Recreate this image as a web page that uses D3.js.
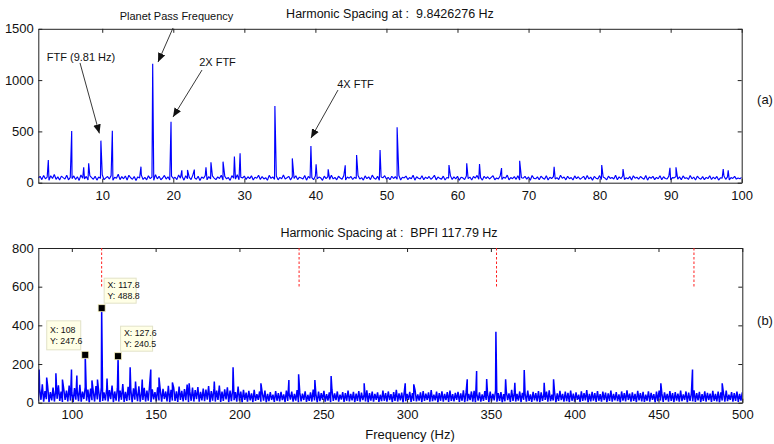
<!DOCTYPE html>
<html><head><meta charset="utf-8">
<script src="https://cdn.jsdelivr.net/npm/d3@7"></script>
<style>
body{margin:0;background:#fff;}
text{font-family:Arial,"Liberation Sans",sans-serif;fill:#111;}
</style>
</head><body>
<svg id="c" width="774" height="444"></svg>
<script>
// ---------- DATA ----------
const topTitle = "Harmonic Spacing at :  9.8426276 Hz";
const botTitle = "Harmonic Spacing at :  BPFI 117.79 Hz";
const topNoiseStart = 1, topNoiseStep = 0.25;
const topNoise = [
45,62,30,71,38,55,24,68,41,80,33,57,26,64,49,35,73,28,52,40,
66,31,58,22,75,44,37,61,27,70,50,34,63,25,56,42,78,29,47,60,
36,69,23,54,43,82,30,59,38,65,26,72,48,33,61,21,57,45,74,32,
51,28,67,40,55,24,79,37,62,29,46,71,35,58,27,64,41,53,30,76,
44,60,25,68,39,52,31,74,47,34,63,22,56,42,70,28,59,36,66,45,
30,57,41,72,26,61,38,50,23,69,43,35,77,29,54,46,64,32,58,40,
67,27,53,44,73,31,60,37,49,24,71,42,56,33,65,28,52,39,75,36,
48,62,26,57,41,68,30,54,45,35,70,25,61,43,50,29,66,38,55,47,
23,64,40,58,32,72,37,51,28,63,46,34,69,27,56,44,60,31,53,42,
71,35,49,26,66,39,57,30,74,45,33,62,24,55,48,68,36,52,29,63,
41,59,34,70,27,53,46,65,31,50,38,73,25,58,43,36,67,29,54,40,
61,33,48,72,28,56,42,35,64,26,51,45,69,32,57,38,62,24,53,47,
30,66,39,55,27,60,44,71,34,49,25,63,41,58,36,52,68,29,46,37,
65,31,54,43,74,28,50,39,59,33,67,26,48,45,62,35,56,24,70,42,
38,57,29,64,46,33,68,27,53,41,60,36,49,31,72,43,55,28,63,39,
51,26,66,40,58,34,47,62,30,71,37,54,25,61,44,35,69,32,56,45,
28,63,42,50,36,73,29,57,40,65,31,48,38,59,27,67,44,53,34,61,
46,33,70,25,55,43,62,30,52,39,68,28,58,41,36,64,26,50,47,60,
35,57,29,66,42,49,32,71,38,55,27,63,44,34,59,30,52,40,68,31,
54,37,61,26,48,45,65,33,57,28,50,41,62,35,46,39,52
];
const topPeakFreq = [2.41,5.70,7.39,8.09,9.81,11.42,15.45,17.1,19.68,21.2,22.0,22.96,24.6,25.3,27.0,28.6,29.4,34.3,36.75,39.37,40.1,41.8,44.2,45.8,49.1,51.5,58.8,61.3,63.1,66.2,68.75,73.6,80.3,83.3,89.9,90.75,97.4,98.1];
const topPeakAmp  = [221,503,150,189,410,507,156,1160,595,120,125,128,150,199,205,254,287,748,237,358,180,130,170,270,319,540,172,189,182,143,214,156,172,133,145,150,133,120];
const topXTicks = [10,20,30,40,50,60,70,80,90,100];
const topYTicks = [0,500,1000,1500];
const topLabels = ["Planet Pass Frequency","FTF (9.81 Hz)","2X FTF","4X FTF"];
const topArrowFrom = [[19.96,1508],[6.87,1167],[24.04,1098],[43.18,903]];
const topArrowTo   = [[17.85,1176],[9.6,480],[19.96,640],[39.38,435]];

const botNoiseStart = 80, botNoiseStep = 0.8;
const botNoise = [
8,72,15,95,5,60,18,84,3,55,12,78,6,66,20,90,9,58,4,70,14,62,7,88,11,52,
3,76,16,64,8,92,5,57,19,81,10,68,2,73,13,59,6,86,17,61,4,79,9,54,12,71,
7,65,18,89,3,58,11,75,6,63,15,97,4,56,9,82,13,67,2,74,16,60,8,85,5,53,
14,77,6,62,10,91,3,69,17,55,8,80,12,64,5,72,19,58,7,87,2,66,11,76,9,59,
4,83,15,61,7,70,13,94,3,57,10,78,6,65,18,81,5,56,12,73,8,68,16,86,2,60,
11,74,6,63,14,88,4,57,9,69,17,79,3,62,8,71,13,55,5,84,10,58,2,66,15,52,
6,61,12,48,3,67,9,44,15,58,5,51,11,63,2,46,8,55,14,42,4,60,10,49,7,56,
13,43,3,62,9,50,16,57,5,45,11,65,2,52,7,47,14,59,4,41,10,54,6,68,12,46,
2,57,8,49,15,61,5,44,11,53,3,66,9,48,13,58,6,42,16,55,4,50,10,63,7,45,
12,56,3,47,9,60,5,52,14,43,7,64,2,49,11,57,6,46,15,54,4,41,8,62,10,50,
5,58,13,44,3,55,9,67,6,48,12,52,2,61,8,45,15,56,4,49,10,63,7,43,11,54,
3,60,9,47,14,53,5,65,8,42,12,57,2,50,10,59,6,46,13,55,4,62,9,44,7,51,
15,56,4,48,10,64,3,52,8,45,13,58,6,61,2,47,11,54,5,43,9,60,14,49,3,57,
8,46,12,63,5,50,10,55,2,44,7,59,13,48,4,66,9,52,6,45,11,58,3,51,15,47,
6,62,9,43,4,56,12,49,7,60,3,53,10,46,14,57,5,64,8,41,11,55,2,48,9,61,
13,45,5,58,8,51,3,63,10,47,6,54,15,42,4,59,9,50,12,65,2,46,7,56,11,49,
4,60,10,44,6,57,13,52,3,48,9,62,5,45,12,55,8,43,2,58,11,50,7,64,14,47,
5,53,9,46,3,61,12,49,7,56,4,42,10,59,6,51,15,44,2,57,8,63,11,48,4,54,
13,45,6,60,9,50,3,55,11,47,5,62,8,43,14,58,2,52,10,46,7,64,4,49,12,56,
3,44,9,59,6,51,13,47,4,61,10,45,7,57,2,53,11,48,5,63,8,42,14,55,6,50,
9,58,4,46,11,53
];
const botPeakFreq = [80.5,85,90.5,94.4,99.8,103,108,112,115.3,117.8,121,127.6,134.8,138,142,147.1,152,160,170,185,196.2,212.8,229.5,235.3,245,254.7,274.4,298.9,304,335.9,341.5,347.5,353,358.8,364.3,369.9,381.8,387.4,451.4,470.3,488];
const botPeakAmp  = [172,130,152,120,172,140,247.6,115,120,488.8,125,240.5,183,110,120,172,130,105,100,110,183,100,117,147,117,138,100,100,95,121,164,122,367,121,103,169,103,121,100,172,100];
const botXTicks = [100,150,200,250,300,350,400,450,500];
const botYTicks = [0,200,400,600,800];
const bpfiHarmonics = [117.79,235.58,353.37,471.16];
const harmonicLineTop = 800, harmonicLineBottom = 600;
const tipX = [108,117.8,127.6];
const tipY = [247.6,488.8,240.5];
const tipXLabel = ["X: 108","X: 117.8","X: 127.6"];
const tipYLabel = ["Y: 247.6","Y: 488.8","Y: 240.5"];
const tipSide = ["left","right","right"];

// ---------- DRAW ----------
const svg = d3.select("#c");
svg.append("defs").append("marker")
  .attr("id","ah").attr("viewBox","0 0 10 10").attr("refX",10).attr("refY",5)
  .attr("markerWidth",9).attr("markerHeight",9).attr("markerUnits","userSpaceOnUse")
  .attr("orient","auto")
  .append("path").attr("d","M0,0.8 L10,5 L0,9.2 z").attr("fill","#111");

function buildSeries(start, step, noise, pf, pa){
  const pts = noise.map((v,i)=>({f:start+i*step, v:v}));
  pf.forEach((f,i)=>pts.push({f:f, v:pa[i]}));
  pts.sort((a,b)=>a.f-b.f);
  return pts;
}

function panel(cfg){
  const x = d3.scaleLinear().domain(cfg.xd).range([cfg.l,cfg.r]);
  const y = d3.scaleLinear().domain(cfg.yd).range([cfg.b,cfg.t]);
  const g = svg.append("g");
  const cid = "clip"+cfg.id;
  svg.select("defs").append("clipPath").attr("id",cid)
    .append("rect").attr("x",cfg.l).attr("y",cfg.t).attr("width",cfg.r-cfg.l).attr("height",cfg.b-cfg.t);
  const data = buildSeries(cfg.ns, cfg.step, cfg.noise, cfg.pf, cfg.pa);
  g.append("path").datum(data)
    .attr("clip-path","url(#"+cid+")")
    .attr("fill","none").attr("stroke","#0000ff").attr("stroke-width",cfg.sw)
    .attr("stroke-linejoin","bevel")
    .attr("d", d3.line().x(d=>x(d.f)).y(d=>y(d.v)));
  const style = a => { a.selectAll("path.domain").attr("stroke","#222"); a.selectAll("line").attr("stroke","#222");
    a.selectAll("text").attr("font-size",13).attr("fill","#111").attr("font-family","Arial, 'Liberation Sans', sans-serif"); };
  g.append("g").attr("transform",`translate(0,${cfg.b})`)
    .call(d3.axisBottom(x).tickValues(cfg.xt).tickSizeInner(-4).tickSizeOuter(0).tickPadding(cfg.xpad).tickFormat(d3.format("d")))
    .call(style);
  g.append("g").attr("transform",`translate(0,${cfg.t})`)
    .call(d3.axisTop(x).tickValues(cfg.xt).tickSizeInner(-4).tickSizeOuter(0).tickFormat(""))
    .call(style);
  g.append("g").attr("transform",`translate(${cfg.l},0)`)
    .call(d3.axisLeft(y).tickValues(cfg.yt).tickSizeInner(-4).tickSizeOuter(0).tickPadding(4.5).tickFormat(d3.format("d")))
    .call(style);
  g.append("g").attr("transform",`translate(${cfg.r},0)`)
    .call(d3.axisRight(y).tickValues(cfg.yt).tickSizeInner(-4).tickSizeOuter(0).tickFormat(""))
    .call(style);
  return {x,y,g};
}

// Top panel
const A = panel({id:"a", xd:[1,100], yd:[0,1500], l:38.3, r:741.7, t:28.8, b:182.7,
  ns:topNoiseStart, step:topNoiseStep, noise:topNoise, pf:topPeakFreq, pa:topPeakAmp,
  xt:topXTicks, yt:topYTicks, xpad:8, sw:1.15});
svg.append("text").attr("x",390).attr("y",18).attr("text-anchor","middle")
  .attr("font-size",12.5).style("white-space","pre").text(topTitle);
const labelPos = [[176.5,20],[81,61],[217.5,66],[355.5,88]];
topLabels.forEach((t,i)=>{
  svg.append("text").attr("x",labelPos[i][0]).attr("y",labelPos[i][1]).attr("text-anchor","middle")
    .attr("font-size",11).text(t);
  svg.append("line")
    .attr("x1",A.x(topArrowFrom[i][0])).attr("y1",A.y(topArrowFrom[i][1]))
    .attr("x2",A.x(topArrowTo[i][0])).attr("y2",A.y(topArrowTo[i][1]))
    .attr("stroke","#222").attr("stroke-width",0.9).attr("marker-end","url(#ah)");
});
svg.append("text").attr("x",765).attr("y",104).attr("text-anchor","middle").attr("font-size",13).text("(a)");

// Bottom panel
const B = panel({id:"b", xd:[80,500], yd:[0,800], l:38.3, r:742.3, t:248, b:402.7,
  ns:botNoiseStart, step:botNoiseStep, noise:botNoise, pf:botPeakFreq, pa:botPeakAmp,
  xt:botXTicks, yt:botYTicks, xpad:7, sw:1.5});
svg.append("text").attr("x",389).attr("y",237).attr("text-anchor","middle")
  .attr("font-size",12.5).style("white-space","pre").text(botTitle);
bpfiHarmonics.forEach(h=>{
  svg.append("line").attr("x1",B.x(h)).attr("x2",B.x(h))
    .attr("y1",B.y(harmonicLineTop)).attr("y2",B.y(harmonicLineBottom))
    .attr("stroke","#ff2020").attr("stroke-width",1).attr("stroke-dasharray","2.5,2");
});
svg.append("text").attr("x",410).attr("y",439).attr("text-anchor","middle").attr("font-size",13).text("Frequency (Hz)");
svg.append("text").attr("x",765).attr("y",325).attr("text-anchor","middle").attr("font-size",13).text("(b)");

// Data tips
tipX.forEach((tx,i)=>{
  const mx = B.x(tx), my = B.y(tipY[i]);
  const w = i===0 ? 34 : 32, h = i===0 ? 29 : 25;
  const bx = tipSide[i]==="left" ? mx-4.5-w : mx+2.5;
  const by = my-5-h;
  svg.append("rect").attr("x",bx).attr("y",by).attr("width",w).attr("height",h)
    .attr("fill","#ffffe6").attr("stroke","#e2e2c8").attr("stroke-width",1);
  const ly = by + h/2;
  svg.append("text").attr("x",bx+3.3).attr("y",ly-2.2).attr("font-size",8.8).text(tipXLabel[i]);
  svg.append("text").attr("x",bx+3.3).attr("y",ly+8.8).attr("font-size",8.8).text(tipYLabel[i]);
  svg.append("rect").attr("x",mx-3.5).attr("y",my-3.5).attr("width",7).attr("height",7)
    .attr("fill","#000").attr("stroke","#f5f0c0").attr("stroke-width",0.8);
});
</script>
</body></html>
